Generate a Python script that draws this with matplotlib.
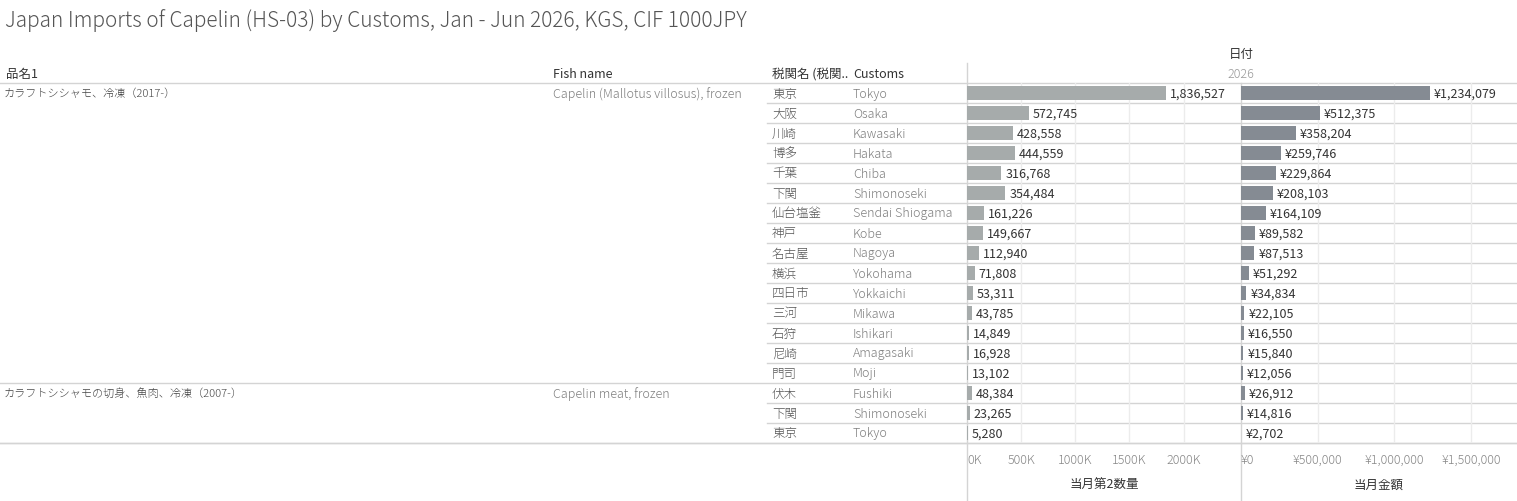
import matplotlib.pyplot as plt

plt.rcParams['font.family'] = ['Noto Sans CJK JP', 'DejaVu Sans']

title = "Japan Imports of Capelin (HS-03) by Customs, Jan - Jun 2026, KGS, CIF 1000JPY"
products_jp = ["カラフトシシャモ、冷凍（2017-）", "カラフトシシャモの切身、魚肉、冷凍（2007-）"]
products_en = ["Capelin (Mallotus villosus), frozen", "Capelin meat, frozen"]
product_rows = [15, 3]
customs_jp = ["東京", "大阪", "川崎", "博多", "千葉", "下関", "仙台塩釜", "神戸", "名古屋",
              "横浜", "四日市", "三河", "石狩", "尼崎", "門司",
              "伏木", "下関", "東京"]
customs_en = ["Tokyo", "Osaka", "Kawasaki", "Hakata", "Chiba", "Shimonoseki", "Sendai Shiogama",
              "Kobe", "Nagoya", "Yokohama", "Yokkaichi", "Mikawa", "Ishikari", "Amagasaki", "Moji",
              "Fushiki", "Shimonoseki", "Tokyo"]
quantity = [1836527, 572745, 428558, 444559, 316768, 354484, 161226, 149667, 112940,
            71808, 53311, 43785, 14849, 16928, 13102,
            48384, 23265, 5280]
amount = [1234079, 512375, 358204, 259746, 229864, 208103, 164109, 89582, 87513,
          51292, 34834, 22105, 16550, 15840, 12056,
          26912, 14816, 2702]
qty_ticks = [0, 500000, 1000000, 1500000, 2000000]
amt_ticks = [0, 500000, 1000000, 1500000]

W, H = 1517, 501
ROW_TOP, ROW_H = 83, 20
n = len(customs_jp)
bottom_y = ROW_TOP + ROW_H * n

fig = plt.figure(figsize=(W / 100, H / 100), dpi=100)
bg = fig.add_axes([0, 0, 1, 1])
bg.set_xlim(0, W)
bg.set_ylim(H, 0)
bg.axis('off')

line_c = '#d4d4d4'
dark = '#333333'
grey = '#7f7f7f'
LW = 'light'

bg.text(5, 21, title, fontsize=15, color='#555555', va='center', ha='left', fontweight=LW)
bg.text(1241, 54, "日付", fontsize=9, color=dark, va='center', ha='center')
bg.text(1241, 74, "2026", fontsize=9, color='#999999', va='center', ha='center', fontweight=LW)
bg.text(6, 74, "品名1", fontsize=9, color=dark, va='center')
bg.text(553, 74, "Fish name", fontsize=9, color=dark, va='center')
bg.text(772, 74, "税関名 (税関..", fontsize=9, color=dark, va='center')
bg.text(853, 74, "Customs", fontsize=9, color=dark, va='center')

# header / group lines
bg.plot([0, W], [ROW_TOP, ROW_TOP], color=line_c, lw=1)
bg.plot([0, W], [bottom_y, bottom_y], color=line_c, lw=1)
start = 0
for jp, en, cnt in zip(products_jp, products_en, product_rows):
    yc = ROW_TOP + ROW_H * start + ROW_H / 2 + 1
    bg.text(4, yc, jp, fontsize=8, color='#444444', va='center', fontweight=LW)
    bg.text(553, yc, en, fontsize=9, color=grey, va='center', fontweight=LW)
    start += cnt
    y = ROW_TOP + ROW_H * start
    bg.plot([0, W], [y, y], color=line_c, lw=1)

group_ends = set()
acc = 0
for cnt in product_rows:
    acc += cnt
    group_ends.add(acc)
for i in range(1, n):
    if i not in group_ends:
        y = ROW_TOP + ROW_H * i
        bg.plot([767, W], [y, y], color=line_c, lw=1)

for i, (jp, en) in enumerate(zip(customs_jp, customs_en)):
    yc = ROW_TOP + ROW_H * i + ROW_H / 2 + 1
    bg.text(772, yc, jp, fontsize=9, color='#555555', va='center', fontweight=LW)
    bg.text(853, yc, en, fontsize=9, color=grey, va='center', fontweight=LW)

bg.plot([967, 967], [63, H], color=line_c, lw=1)
bg.plot([1241, 1241], [ROW_TOP, H], color=line_c, lw=1)

bg.text(1104, 485, "当月第2数量", fontsize=9, color=dark, va='center', ha='center')
bg.text(1379, 485, "当月金額", fontsize=9, color=dark, va='center', ha='center')


def pane(x0, width, values, ticks, xmax, color, fmt, tickfmt):
    ax = fig.add_axes([x0 / W, 1 - bottom_y / H, width / W, ROW_H * n / H])
    ax.set_facecolor('none')
    rows = list(range(len(values)))
    for t in ticks[1:]:
        ax.axvline(t, color='#ececec', lw=1, zorder=0)
    ax.barh(rows, values, height=0.7, color=color, zorder=2)
    for r, v in zip(rows, values):
        ax.text(v + xmax * 0.014, r + 0.05, fmt(v), fontsize=9, color=dark, va='center', ha='left', zorder=3)
    ax.set_xlim(0, xmax)
    ax.set_ylim(len(values) - 0.5, -0.5)
    ax.set_yticks([])
    ax.set_xticks(ticks)
    ax.set_xticklabels([tickfmt(t) for t in ticks], fontweight=LW)
    ax.tick_params(axis='x', length=0, pad=8, labelsize=9, labelcolor='#888888')
    ax.get_xticklabels()[0].set_horizontalalignment('left')
    for s in ax.spines.values():
        s.set_visible(False)
    return ax


pane(967, 274, quantity, qty_ticks, 2.53e6, '#a6abab',
     lambda v: f"{v:,}", lambda t: f"{t // 1000}K")
pane(1241, 276, amount, amt_ticks, 1.80e6, '#858b93',
     lambda v: f"¥{v:,}", lambda t: f"¥{t:,}")

fig.savefig('out.png', dpi=100)
